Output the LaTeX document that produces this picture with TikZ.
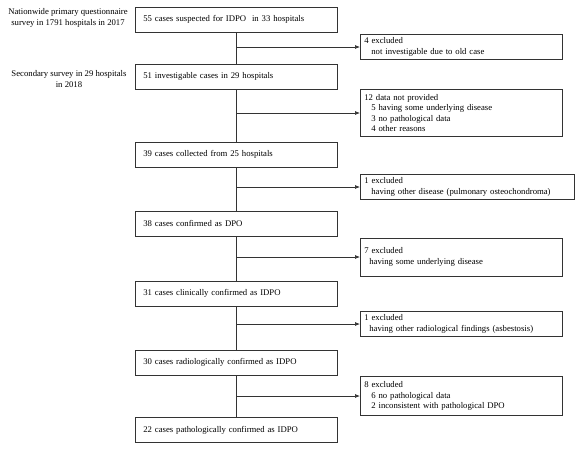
\documentclass[tikz,border=0pt]{standalone}
\usepackage{fontspec}
\setmainfont{Liberation Serif}
\usetikzlibrary{arrows.meta}

\begin{document}
\begin{tikzpicture}
  [x=1pt,y=-1pt,font=\fontsize{8.7}{10.4}\selectfont,
   every node/.style={draw=black!80,line width=.7pt,align=left},
   mainbox/.style={anchor=west,inner xsep=8pt,text width=186pt,minimum height=25pt},
   sidebox/.style={anchor=west,inner xsep=4pt,inner ysep=2pt,text width=194pt},
   note/.style={draw=none,align=center}]
 \useasboundingbox (0,0) rectangle (581,448);
 % stages of the survey
 \node (s1)[note] at (68,18) {Nationwide primary questionnaire\\survey in 1791 hospitals in 2017};
 \node (s2)[note] at (69,79) {Secondary survey in 29 hospitals\\in 2018};

 \node (b1)[mainbox] at (135,19.5) {55 cases suspected for IDPO\ \ in 33 hospitals};
 \node (b2)[mainbox] at (135,76.5) {51 investigable cases in 29 hospitals};
 \node (b3)[mainbox] at (135,154.5) {39 cases collected from 25 hospitals};
 \node (b4)[mainbox] at (135,223.5) {38 cases confirmed\ as DPO};
 \node (b5)[mainbox] at (135,293.5) {31 cases clinically\ confirmed\ as IDPO};
 \node (b6)[mainbox] at (135,362.5) {30 cases radiologically\ confirmed as IDPO};
 \node (b7)[mainbox] at (135,430) {22 cases pathologically confirmed as IDPO};

 % exclusions
 \coordinate (j1) at (236,47);
 \coordinate (j2) at (236,113);
 \coordinate (j3) at (236,187);
 \coordinate (j4) at (236,257);
 \coordinate (j5) at (236,324);
 \coordinate (j6) at (236,396);
 \node (x1)[sidebox,minimum height=25pt] at (360,47)
   {4 excluded\\\hspace*{7pt}not investigable due to old case};
 \node (x2)[sidebox,minimum height=47pt] at (360,113)
   {12\ data not provided\\\hspace*{7pt}5 having some underlying\ disease\\\hspace*{7pt}3 no pathological data\\\hspace*{7pt}4 other reasons};
 \node (x3)[sidebox,text width=206pt,minimum height=25pt] at (360,187)
   {1 excluded\\\hspace*{7pt}having other disease (pulmonary\ osteochondroma)};
 \node (x4)[sidebox,minimum height=38pt] at (360,257)
   {7 excluded\\\hspace*{5pt}having some underlying disease};
 \node (x5)[sidebox,minimum height=25pt] at (360,324)
   {1 excluded\\\hspace*{5pt}having other radiological\ findings (asbestosis)};
 \node (x6)[sidebox,minimum height=39pt] at (360,396)
   {8 excluded\\\hspace*{7pt}6 no pathological data\\\hspace*{7pt}2 inconsistent with pathological DPO};

 \foreach \from/\to in {b1/b2,b2/b3,b3/b4,b4/b5,b5/b6,b6/b7}
    \draw[black!80,line width=.7pt] (\from) -- (\to);
 \foreach \from/\to in {j1/x1,j2/x2,j3/x3,j4/x4,j5/x5,j6/x6}
    \draw[black!80,line width=.7pt,-{Latex[length=5pt,width=4pt]}] (\from) -- (\to);
\end{tikzpicture}
\end{document}
